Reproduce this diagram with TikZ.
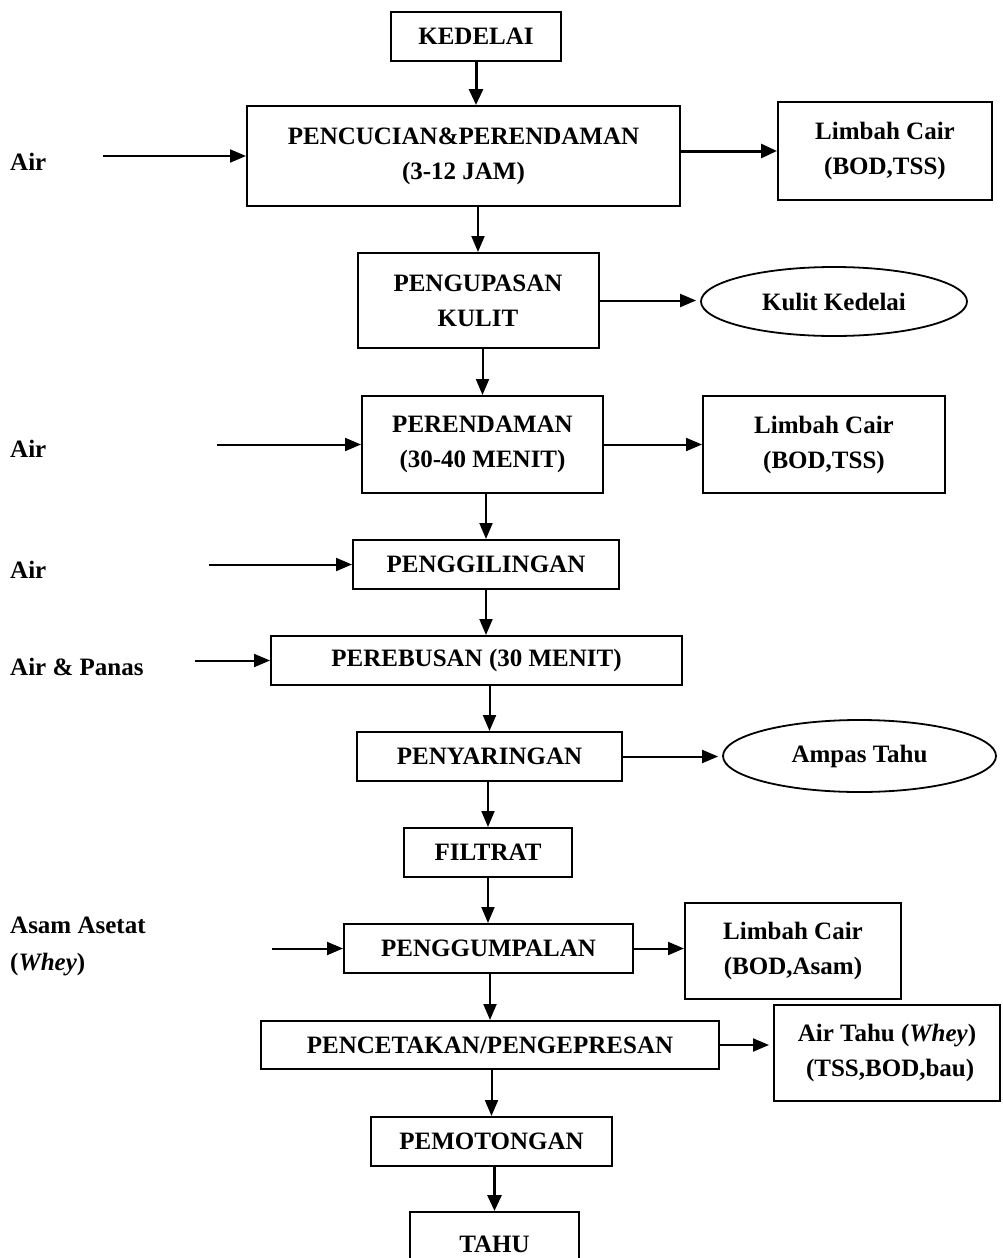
\documentclass[tikz,border=0pt]{standalone}
\usepackage{fontspec}
\setmainfont{Liberation Serif}
\usetikzlibrary{arrows.meta,shapes.geometric}
\begin{document}
\begin{tikzpicture}[x=1pt,y=-1pt,
  txt/.style={font=\fontsize{25}{35}\selectfont\bfseries, align=center, inner sep=0pt},
  lbl/.style={font=\fontsize{25}{37}\selectfont\bfseries, align=left, inner sep=0pt, anchor=west},
  box/.style={txt, draw, line width=2pt},
  oval/.style={txt, draw, ellipse, line width=1.8pt},
  arr/.style={line width=2pt, -{Triangle[length=16pt,width=13pt]}},
  arrb/.style={line width=3pt, -{Triangle[length=16pt,width=14pt]}}]
\useasboundingbox (0,0) rectangle (1002,1258);
\fill[white] (0,0) rectangle (1002,1258);

% main column
\node[box, minimum width=170pt, minimum height=49pt] (kedelai) at (476,36.5) {KEDELAI};
\node[box, minimum width=433pt, minimum height=100pt] (pencucian) at (463.5,156) {PENCUCIAN\&PERENDAMAN\\(3-12 JAM)};
\node[box, minimum width=241pt, minimum height=95pt] (pengupasan) at (478,300.5) {PENGUPASAN\\KULIT};
\node[box, minimum width=241pt, minimum height=97pt] (perendaman) at (482.5,444.5) {PERENDAMAN\\(30-40 MENIT)};
\node[box, minimum width=266pt, minimum height=49pt] (penggilingan) at (486,564.5) {PENGGILINGAN};
\node[box, minimum width=411pt, minimum height=49pt] (perebusan) at (476.5,660.5) {PEREBUSAN (30 MENIT)};
\node[box, minimum width=265pt, minimum height=49pt] (penyaringan) at (489.5,756.5) {PENYARINGAN};
\node[box, minimum width=168pt, minimum height=49pt] (filtrat) at (488,852.5) {FILTRAT};
\node[box, minimum width=289pt, minimum height=49pt] (penggumpalan) at (488.5,948.5) {PENGGUMPALAN};
\node[box, minimum width=458pt, minimum height=48pt] (pencetakan) at (490,1045) {PENCETAKAN/PENGEPRESAN};
\node[box, minimum width=241pt, minimum height=49pt] (pemotongan) at (491.5,1141.5) {PEMOTONGAN};
\node[box, minimum width=169pt, minimum height=64pt] (tahu) at (494.5,1244) {TAHU};

% outputs
\node[box, minimum width=214pt, minimum height=98pt] (limbah1) at (885,151) {Limbah Cair\\(BOD,TSS)};
\node[oval, minimum width=266pt, minimum height=69pt] (kulit) at (834,301.5) {Kulit Kedelai};
\node[box, minimum width=242pt, minimum height=97pt] (limbah2) at (824,444.5) {Limbah Cair\\(BOD,TSS)};
\node[oval, minimum width=273pt, minimum height=72pt] (ampas) at (859.5,756) {Ampas Tahu};
\node[box, minimum width=216pt, minimum height=96pt] (limbah3) at (793,951) {Limbah Cair\\(BOD,Asam)};
\node[box, minimum width=226pt, minimum height=96pt] (airtahu) at (887,1053) {Air Tahu (\textit{Whey})\\\ (TSS,BOD,bau)};

% inputs
\node[lbl] (in1) at (10,162) {Air};
\node[lbl] (in2) at (10,449) {Air};
\node[lbl] (in3) at (10,570) {Air};
\node[lbl] (in4) at (10,667) {Air \& Panas};
\node[lbl] (in5) at (10,946.5) {Asam Asetat\\(\textit{Whey})};
\coordinate (s1) at (103,156);
\coordinate (s2) at (217,444.5);
\coordinate (s3) at (209,564.5);
\coordinate (s4) at (195,660.5);
\coordinate (s5) at (272,948.5);

\draw[arr] (s1) -- (s1 -| pencucian.west);
\draw[arr] (s2) -- (s2 -| perendaman.west);
\draw[arr] (s3) -- (s3 -| penggilingan.west);
\draw[arr] (s4) -- (s4 -| perebusan.west);
\draw[arr] (s5) -- (s5 -| penggumpalan.west);

% vertical flow
\draw[arrb] (kedelai.south) -- (kedelai.south |- pencucian.north);
\draw[arr] (pengupasan.north |- pencucian.south) -- (pengupasan.north);
\draw[arr] (pengupasan.south -| perendaman.north) -- (perendaman.north);
\draw[arr] (perendaman.south -| penggilingan.north) -- (penggilingan.north);
\draw[arr] (penggilingan.south) -- (penggilingan.south |- perebusan.north);
\draw[arr] (perebusan.south -| penyaringan.north) -- (penyaringan.north);
\draw[arr] (penyaringan.south -| filtrat.north) -- (filtrat.north);
\draw[arr] (filtrat.south) -- (filtrat.south |- penggumpalan.north);
\draw[arr] (penggumpalan.south -| pencetakan.north) -- (pencetakan.north);
\draw[arr] (pencetakan.south -| pemotongan.north) -- (pemotongan.north);
\draw[arrb] (pemotongan.south -| tahu.north) -- (tahu.north);

% side outputs
\draw[arrb] (pencucian.east |- limbah1.west) -- (limbah1.west);
\draw[arr] (pengupasan.east) -- ([xshift=-4pt]pengupasan.east -| kulit.west);
\draw[arr] (perendaman.east) -- (perendaman.east -| limbah2.west);
\draw[arr] (penyaringan.east) -- ([xshift=-4pt]penyaringan.east -| ampas.west);
\draw[arr] (penggumpalan.east) -- (penggumpalan.east -| limbah3.west);
\draw[arr] (pencetakan.east) -- ([xshift=-4pt]pencetakan.east -| airtahu.west);
\end{tikzpicture}
\end{document}
